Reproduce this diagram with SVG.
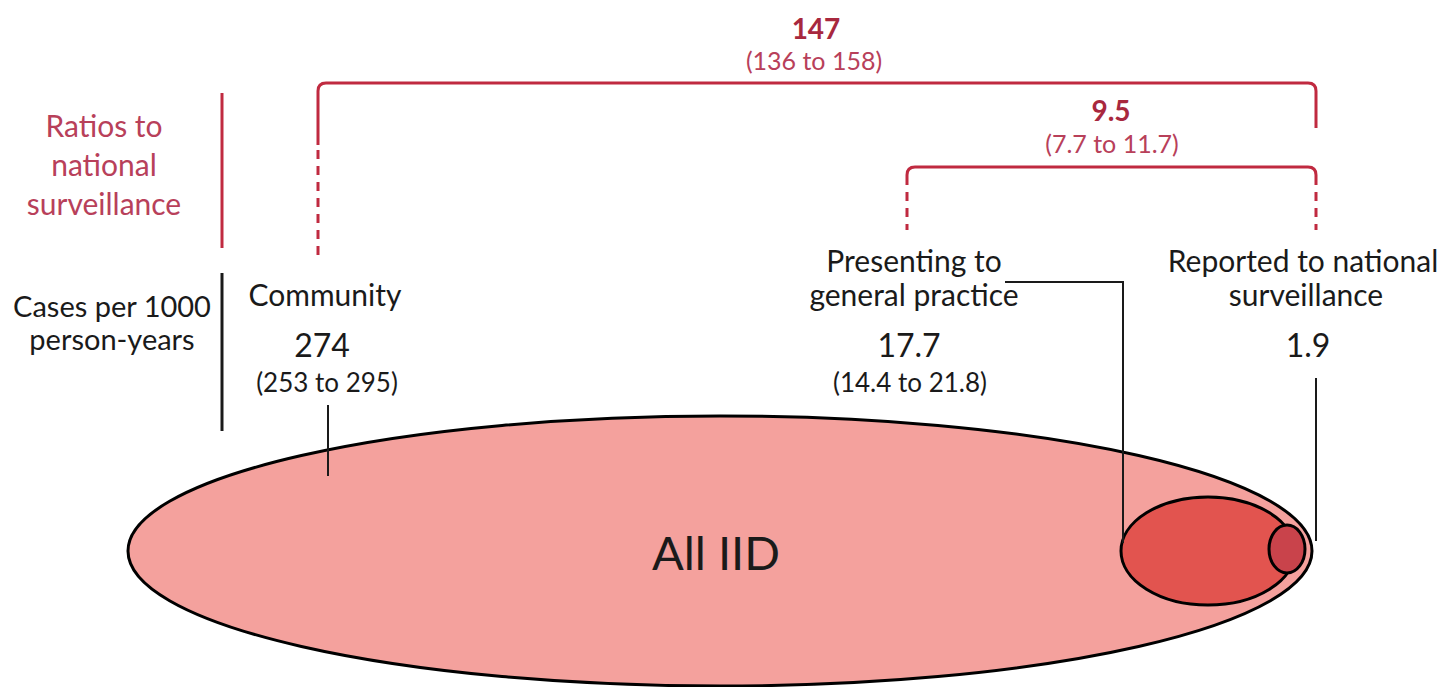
<svg xmlns="http://www.w3.org/2000/svg" width="1444" height="687" viewBox="0 0 1444 687">
<style>
text{font-family:Lato,"Liberation Sans",sans-serif;text-anchor:middle}
.red{fill:#a8283e}
.redl{fill:#b8405a}
.blk{fill:#1a1a1a}
.rl{stroke:#c02a40;stroke-width:3;fill:none}
.rd{stroke:#c02a40;stroke-width:3;fill:none;stroke-dasharray:9 7}
.bl{stroke:#1a1a1a;stroke-width:2;fill:none}
.lab{font-size:30px}
.num{font-size:32px}
.ci{font-size:26px}
.ci2{font-size:25px}
.bold{font-size:28px;font-weight:bold}
</style>
<rect width="1444" height="687" fill="#ffffff"/>
<g id="ellipses">
<g id="all-iid"><ellipse cx="720" cy="551" rx="592" ry="135" fill="#f4a19d" stroke="#000" stroke-width="3"/>
<text x="716" y="570" font-size="47" class="blk">All IID</text></g>
<g id="gp-ellipse"><ellipse cx="1208" cy="551" rx="87" ry="54" fill="#e2544f" stroke="#000" stroke-width="3"/></g>
<g id="surv-ellipse"><ellipse cx="1287" cy="549" rx="18" ry="24" fill="#c9434b" stroke="#000" stroke-width="3"/></g>
</g>
<g id="connectors">
<path class="rl" d="M318,145 V91 Q318,83 326,83 H1308 Q1316,83 1316,91 V128"/>
<path class="rd" d="M318,150 V258"/>
<path class="rl" d="M907,185 V175 Q907,167 915,167 H1308 Q1316,167 1316,175 V185"/>
<path class="rd" d="M907,192 V230"/>
<path class="rd" d="M1316,192 V230"/>
<path class="rl" d="M222,93 V248"/>
<path d="M222,273 V431" stroke="#1a1a1a" stroke-width="3"/>
<path class="bl" d="M328,405 V476"/>
<path class="bl" d="M1005,282 H1123 V543"/>
<path class="bl" d="M1316,378 V541"/>
</g>
<g id="ratio-147"><text x="816" y="39" class="bold red">147</text>
<text x="814" y="70" class="ci2 redl">(136 to 158)</text></g>
<g id="ratio-9.5"><text x="1111" y="121" class="bold red">9.5</text>
<text x="1112" y="153" class="ci2 redl">(7.7 to 11.7)</text></g>
<g id="ratios-label">
<text x="104" y="137" class="lab redl">Ratios to</text>
<text x="104" y="176" class="lab redl">national</text>
<text x="104" y="215" class="lab redl">surveillance</text></g>
<g id="cases-label">
<text x="112" y="317" font-size="29" class="blk">Cases per 1000</text>
<text x="112" y="350" font-size="29" class="blk">person-years</text></g>
<g id="community">
<text x="325" y="306" class="lab blk">Community</text>
<text x="322" y="357" class="num blk">274</text>
<text x="327" y="392" class="ci blk">(253 to 295)</text></g>
<g id="gp">
<text x="914" y="272" class="lab blk">Presenting to</text>
<text x="914" y="306" class="lab blk">general practice</text>
<text x="909" y="357" class="num blk">17.7</text>
<text x="910" y="392" class="ci blk">(14.4 to 21.8)</text></g>
<g id="surveillance">
<text x="1303" y="272" class="lab blk">Reported to national</text>
<text x="1306" y="306" class="lab blk">surveillance</text>
<text x="1308" y="357" class="num blk">1.9</text></g>
</svg>
